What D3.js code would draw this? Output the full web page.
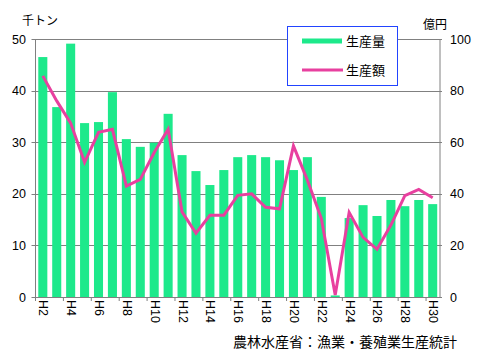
<!DOCTYPE html>
<html><head><meta charset="utf-8">
<script src="https://cdn.jsdelivr.net/npm/d3@7"></script>
<style>
body{margin:0;background:#fff;}
svg{display:block;}
text{font-family:"Liberation Sans",Arial,sans-serif;}
.cjk{font-family:"Noto Sans CJK JP","Noto Sans CJK SC",sans-serif;}
</style></head>
<body>
<svg id="c" width="480" height="360"></svg>
<script>
const years = ["H2","H3","H4","H5","H6","H7","H8","H9","H10","H11","H12","H13","H14","H15","H16","H17","H18","H19","H20","H21","H22","H23","H24","H25","H26","H27","H28","H29","H30"];
const volume = [46.5,36.8,49.1,33.7,33.9,39.7,30.6,29.1,29.9,35.5,27.5,24.4,21.7,24.6,27.1,27.5,27.1,26.5,24.6,27.1,19.4,0.3,15.3,17.8,15.7,18.8,17.6,18.8,18.0];
const value = [85.7,76,67.4,52.2,63.8,65,43,45.6,56,65,33,24.7,31.7,31.7,39.4,40,34.8,34.2,58.6,45.3,30.5,0.8,32.8,23.1,18.5,27.9,39.3,41.7,38.5];
const leftTicks = [0,10,20,30,40,50];
const rightTicks = [0,20,40,60,80,100];
const tickLabels = years.filter((d,i)=>i%2===0);

const svg = d3.select("#c");
const L=35.5, R=440, T=39, B=297;
const gray="#808080", green="#1de98b", pink="#e8409f";

const x = d3.scaleBand().domain(years).range([L,R]).paddingInner(0.35).paddingOuter(0.2);
const step = (R-L)/years.length;
const yL = d3.scaleLinear().domain([0,50]).range([B,T]);
const yR = d3.scaleLinear().domain([0,100]).range([B,T]);

// gridlines
svg.append("g").selectAll("line").data(leftTicks).join("line")
  .attr("x1",L-4).attr("x2",R+2).attr("y1",d=>Math.round(yL(d))+0.5).attr("y2",d=>Math.round(yL(d))+0.5)
  .attr("stroke",gray).attr("stroke-width",1);

// bars
svg.append("g").selectAll("rect").data(years).join("rect")
  .attr("x",d=>x(d)).attr("width",x.bandwidth())
  .attr("y",(d,i)=>yL(volume[i])).attr("height",(d,i)=>B-yL(volume[i]))
  .attr("fill",green);

// axes lines
svg.append("line").attr("x1",L).attr("x2",L).attr("y1",T).attr("y2",B).attr("stroke",gray);
svg.append("line").attr("x1",R).attr("x2",R).attr("y1",T).attr("y2",B).attr("stroke",gray);
svg.append("line").attr("x1",L).attr("x2",R).attr("y1",B+0.5).attr("y2",B+0.5).attr("stroke",gray);

// x ticks at boundaries every 2 bands
const tickPos = d3.range(0, years.length+1, 2);
svg.append("g").selectAll("line").data(tickPos).join("line")
  .attr("x1",d=>L+d*step).attr("x2",d=>L+d*step).attr("y1",B).attr("y2",B+4)
  .attr("stroke",gray);

// line
const line = d3.line().x((d,i)=>x(years[i])+x.bandwidth()/2).y(d=>yR(d));
svg.append("path").datum(value).attr("d",line).attr("fill","none")
  .attr("stroke",pink).attr("stroke-width",3).attr("stroke-linejoin","miter");

// left tick labels
svg.append("g").selectAll("text").data(leftTicks).join("text")
  .attr("x",26).attr("y",d=>yL(d)+4.5).attr("text-anchor","end")
  .attr("font-size",12.5).attr("fill","#000").text(d=>d);
// right tick labels
svg.append("g").selectAll("text").data(rightTicks).join("text")
  .attr("x",450).attr("y",d=>yR(d)+4.5).attr("text-anchor","start")
  .attr("font-size",12.5).attr("fill","#000").text(d=>d);

// x labels rotated
svg.append("g").selectAll("text").data(tickLabels).join("text")
  .attr("transform",d=>`translate(${x(d)+x.bandwidth()/2-3.5},300) rotate(90)`)
  .attr("text-anchor","start").attr("font-size",12.5).attr("fill","#000").text(d=>d);

// unit labels
svg.append("text").attr("class","cjk").attr("x",22).attr("y",25).attr("font-size",12).text("千トン");
svg.append("text").attr("class","cjk").attr("x",423).attr("y",29).attr("font-size",12).text("億円");

// legend
const lg = svg.append("g");
lg.append("rect").attr("x",287.5).attr("y",26.5).attr("width",110).attr("height",59)
  .attr("fill","#fff").attr("stroke","#2244ff").attr("stroke-width",1);
lg.append("line").attr("x1",302).attr("x2",342).attr("y1",41).attr("y2",41).attr("stroke",green).attr("stroke-width",5);
lg.append("line").attr("x1",302).attr("x2",343).attr("y1",70).attr("y2",70).attr("stroke",pink).attr("stroke-width",3);
lg.append("text").attr("class","cjk").attr("x",346).attr("y",46).attr("font-size",13).text("生産量");
lg.append("text").attr("class","cjk").attr("x",346).attr("y",75).attr("font-size",13).text("生産額");

// source
svg.append("text").attr("class","cjk").attr("x",457).attr("y",347).attr("text-anchor","end")
  .attr("font-size",14).text("農林水産省：漁業・養殖業生産統計");
</script>
</body></html>
